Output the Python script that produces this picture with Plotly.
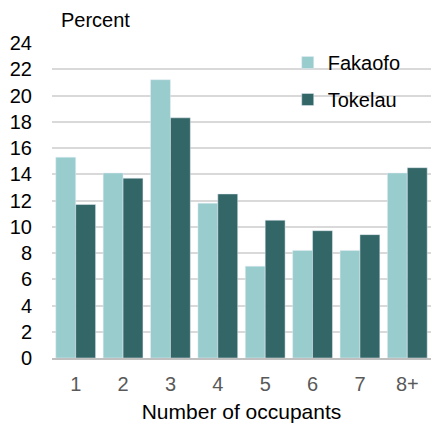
import plotly.graph_objects as go

# number of occupants per household
occupants = ["1", "2", "3", "4", "5", "6", "7", "8+"]
fakaofo = [15.3, 14.1, 21.2, 11.8, 7.0, 8.2, 8.2, 14.1]
tokelau = [11.7, 13.7, 18.3, 12.5, 10.5, 9.7, 9.4, 14.5]
y_ticks = list(range(0, 25, 2))

font = "Liberation Sans, Arial, sans-serif"

fig = go.Figure()
fig.add_trace(go.Bar(x=occupants, y=fakaofo, name="Fakaofo", marker_color="#99CCCC",
                     legendgroup="a"))
fig.add_trace(go.Bar(x=occupants, y=tokelau, name="Tokelau", marker_color="#336666",
                     legendgroup="b"))

fig.update_layout(
    width=432, height=429,
    margin=dict(l=52, r=1, t=43, b=71, autoexpand=False),
    barmode="group", bargap=0.16, bargroupgap=0,
    plot_bgcolor="white", paper_bgcolor="white",
    font=dict(family=font, size=20, color="black"),
    legend=dict(x=0.622, y=1.0, xanchor="left", yanchor="top",
                font=dict(size=20), tracegroupgap=8, bgcolor="rgba(0,0,0,0)"),
    annotations=[dict(text="Percent", x=0.018, y=1.073, xref="paper", yref="paper",
                      xanchor="left", yanchor="middle", showarrow=False)],
)

fig.update_yaxes(range=[0, 24], tickvals=y_ticks, showgrid=True, gridcolor="#D9D9D9",
                 gridwidth=1.5, zeroline=False, showline=False, ticks="", automargin=False,
                 ticklabelstandoff=19, tickfont=dict(size=20, color="black"))
fig.update_xaxes(showline=True, linecolor="#BFBFBF", linewidth=1.5, ticks="", automargin=False,
                 tickfont=dict(size=20, color="#595959"), ticklabelstandoff=7,
                 title=dict(text="Number of occupants", font=dict(size=21), standoff=11))

# drop the default page margin so the figure sits at the top-left corner
fig.write_html("out.html", config={"displayModeBar": False},
               post_script="document.body.style.margin='0';")
